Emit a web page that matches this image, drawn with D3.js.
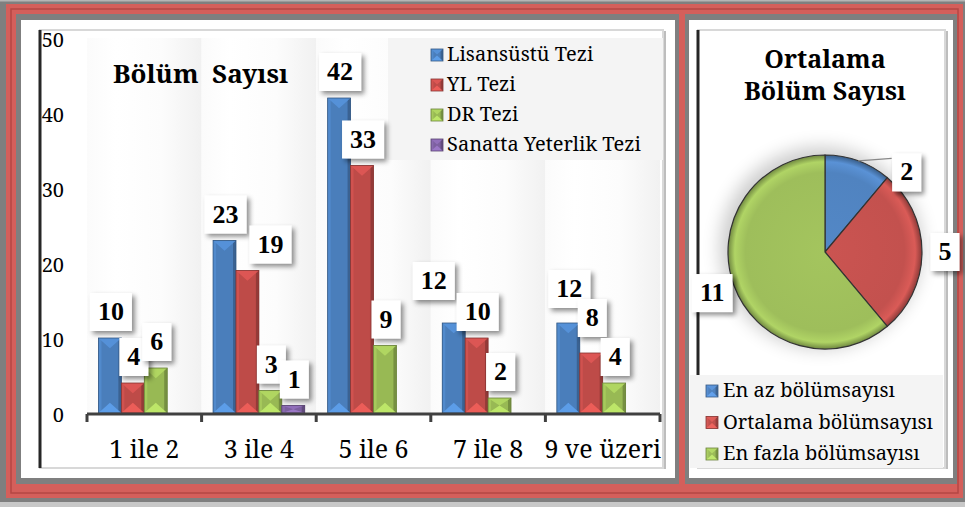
<!DOCTYPE html>
<html><head><meta charset="utf-8">
<script src="https://cdn.jsdelivr.net/npm/d3@7"></script>
<style>html,body{margin:0;padding:0;background:#7f7f7f;} svg{display:block;}</style>
</head><body><svg id="c" width="965" height="507"></svg>
<script>
// ---------- DATA ----------
const categories = ["1 ile 2", "3 ile 4", "5 ile 6", "7 ile 8", "9 ve üzeri"];
const seriesNames = ["Lisansüstü Tezi", "YL Tezi", "DR Tezi", "Sanatta Yeterlik Tezi"];
const lisansustuTezi = [10, 23, 42, 12, 12];
const ylTezi = [4, 19, 33, 10, 8];
const drTezi = [6, 3, 9, 2, 4];
const sanattaYeterlikTezi = [0, 1, 0, 0, 0];
const yTicks = [0, 10, 20, 30, 40, 50];
const pieNames = ["En az bölümsayısı", "Ortalama bölümsayısı", "En fazla bölümsayısı"];
const pieValues = [2, 5, 11];

// layout-only nudges for overlapping data labels ("category,series" -> [dx, dy])
const labelNudge = { "1,1": [22, 0], "3,0": [-21, -16], "4,0": [0, -8], "4,1": [0, -9] };

const seriesValues = [lisansustuTezi, ylTezi, drTezi, sanattaYeterlikTezi];
const seriesColors = ["#4a7ebb", "#be4b48", "#98b954", "#7d60a0"];
const pieColors = ["#4f81bd", "#c0504d", "#9bbb59"];
const FONT = "'Noto Serif', 'Liberation Serif', serif";
const NUMFONT = "'Liberation Serif', serif";

const svg = d3.select("#c");
const defs = svg.append("defs");
const f = defs.append("filter").attr("id", "dshadow").attr("x", "-40%").attr("y", "-40%").attr("width", "180%").attr("height", "180%");
f.append("feDropShadow").attr("dx", 3).attr("dy", 3).attr("stdDeviation", 2.5).attr("flood-color", "#000").attr("flood-opacity", 0.45);
const f2 = defs.append("filter").attr("id", "pieglow").attr("x", "-50%").attr("y", "-50%").attr("width", "200%").attr("height", "200%");
f2.append("feGaussianBlur").attr("stdDeviation", 9);

// ---------- FRAME ----------
svg.append("rect").attr("width", 965).attr("height", 507).attr("fill", "#7f7f7f");
svg.append("rect").attr("x", 0).attr("y", 0).attr("width", 965).attr("height", 1.5).attr("fill", "#b5b5b5");
svg.append("rect").attr("x", 0).attr("y", 502).attr("width", 965).attr("height", 5).attr("fill", "#c8c8c8");
svg.append("rect").attr("x", 6).attr("y", 4).attr("width", 957).attr("height", 494).attr("fill", "#d45f5b");
svg.append("rect").attr("x", 11).attr("y", 9).attr("width", 947).attr("height", 484).attr("fill", "none").attr("stroke", "#b44744").attr("stroke-width", 1.5);
svg.append("rect").attr("x", 16).attr("y", 14).attr("width", 941).attr("height", 470).attr("fill", "#7f7f7f");
svg.append("rect").attr("x", 679).attr("y", 13).attr("width", 6).attr("height", 472).attr("fill", "#d45f5b");
svg.append("rect").attr("x", 21).attr("y", 20).attr("width", 654).attr("height", 458).attr("fill", "#ffffff");
svg.append("rect").attr("x", 689).attr("y", 20).attr("width", 264).attr("height", 458).attr("fill", "#ffffff");
function innerBox(x0, x1) {
  svg.append("rect").attr("x", x0).attr("y", 30).attr("width", x1 - x0).attr("height", 438)
    .attr("fill", "#ffffff").attr("stroke", "#d8d8d8").attr("stroke-width", 2);
  svg.append("line").attr("x1", x1 + 2).attr("x2", x1 + 2).attr("y1", 31).attr("y2", 469).attr("stroke", "#bdbdbd").attr("stroke-width", 2);
  svg.append("line").attr("x1", x0).attr("x2", x0).attr("y1", 30).attr("y2", 468).attr("stroke", "#262626").attr("stroke-width", 3);
}
innerBox(40, 663);
innerBox(698, 945);

// ---------- BAR CHART ----------
const x0 = d3.scaleBand().domain(categories).range([87, 660]).paddingInner(0).paddingOuter(0);
const x1 = d3.scaleBand().domain(seriesNames).range([0, x0.bandwidth()]).paddingInner(0).paddingOuter(0.5);
const y = d3.scaleLinear().domain([0, 50]).range([413, 38]);

const bandGrad = defs.append("linearGradient").attr("id", "bandGrad").attr("x1", 0).attr("x2", 1).attr("y1", 0).attr("y2", 0);
bandGrad.append("stop").attr("offset", "0%").attr("stop-color", "#fbfbfb");
bandGrad.append("stop").attr("offset", "25%").attr("stop-color", "#ffffff");
bandGrad.append("stop").attr("offset", "65%").attr("stop-color", "#fcfcfc");
bandGrad.append("stop").attr("offset", "100%").attr("stop-color", "#f1f1f1");
svg.append("g").selectAll("rect").data(categories).join("rect")
  .attr("x", d => x0(d)).attr("y", y(50)).attr("width", x0.bandwidth()).attr("height", y(0) - y(50))
  .attr("fill", "url(#bandGrad)");

function bevelBar(g, x, yt, w, h, color) {
  const c = d3.color(color);
  const t = Math.min(w * 0.45, h / 2);
  const e = Math.min(3, w / 5);
  g.append("rect").attr("x", x).attr("y", yt).attr("width", w).attr("height", h).attr("fill", color);
  g.append("polygon").attr("points", [[x, yt], [x + e, yt], [x + e, yt + h], [x, yt + h]].join(" ")).attr("fill", c.brighter(0.25));
  g.append("polygon").attr("points", [[x + w - e, yt], [x + w, yt], [x + w, yt + h], [x + w - e, yt + h]].join(" ")).attr("fill", c.darker(0.7));
  g.append("polygon").attr("points", [[x, yt], [x + w, yt], [x + w / 2, yt + t]].join(" ")).attr("fill", c.brighter(0.45)).attr("opacity", 0.9);
  g.append("polygon").attr("points", [[x, yt + h], [x + w, yt + h], [x + w / 2, yt + h - t]].join(" ")).attr("fill", c.brighter(0.7)).attr("opacity", 0.85);
  g.append("rect").attr("x", x).attr("y", yt).attr("width", w).attr("height", h).attr("fill", "none")
    .attr("stroke", c.darker(1)).attr("stroke-width", 0.8);
}

const barsG = svg.append("g");
categories.forEach((cat, i) => {
  seriesNames.forEach((s, k) => {
    const v = seriesValues[k][i];
    if (v <= 0) return;
    bevelBar(barsG.append("g"), x0(cat) + x1(s), y(v), x1.bandwidth(), y(0) - y(v), seriesColors[k]);
  });
});

// x axis
const xAxisG = svg.append("g").attr("transform", "translate(0,414)");
xAxisG.append("line").attr("x1", 87).attr("x2", 660).attr("y1", 0).attr("y2", 0).attr("stroke", "#404040").attr("stroke-width", 3);
const bounds = categories.map(c => x0(c)).concat([x0(categories[categories.length - 1]) + x0.bandwidth()]);
xAxisG.selectAll("line.tk").data(bounds).join("line").attr("class", "tk")
  .attr("x1", d => d).attr("x2", d => d).attr("y1", 0).attr("y2", 8).attr("stroke", "#404040").attr("stroke-width", 3);
xAxisG.selectAll("text").data(categories).join("text")
  .attr("x", d => x0(d) + x0.bandwidth() / 2).attr("y", 44).attr("text-anchor", "middle")
  .style("font-family", FONT).attr("font-size", 25).attr("fill", "#000").text(d => d);

// y axis labels
svg.append("g").selectAll("text").data(yTicks).join("text")
  .attr("x", 64).attr("y", d => y(d) + 2).attr("dy", "0.35em").attr("text-anchor", "end")
  .style("font-family", FONT).attr("font-size", 20).attr("fill", "#000").text(d => d);

// title
svg.append("text").attr("x", 113).attr("y", 83).style("font-family", FONT).attr("font-weight", "bold")
  .attr("font-size", 26).attr("fill", "#000").style("white-space", "pre").text("Bölüm  Sayısı");

// legend
const lg = svg.append("g");
lg.append("rect").attr("x", 388).attr("y", 38).attr("width", 275).attr("height", 122).attr("fill", "#f4f4f4");
seriesNames.forEach((s, k) => {
  bevelBar(lg.append("g"), 431, 49 + k * 30, 12, 12, seriesColors[k]);
  lg.append("text").attr("x", 447).attr("y", 61 + k * 30).style("font-family", FONT).attr("font-size", 20)
    .attr("fill", "#000").text(s);
});

function labelBox(g, cx, bottom, txt) {
  const lb = g.append("g");
  const r = lb.append("rect").attr("fill", "#fff").attr("filter", "url(#dshadow)");
  const t = lb.append("text").attr("x", cx).attr("y", bottom - 11).attr("text-anchor", "middle")
    .style("font-family", NUMFONT).attr("font-weight", "bold").attr("font-size", 26).attr("fill", "#000").text(txt);
  const w = t.node().getComputedTextLength() + 16;
  r.attr("x", cx - w / 2).attr("y", bottom - 38).attr("width", w).attr("height", 38);
  return lb;
}
const labelsG = svg.append("g");
categories.forEach((cat, i) => {
  seriesNames.forEach((s, k) => {
    const v = seriesValues[k][i];
    if (v <= 0) return;
    const n = labelNudge[i + "," + k] || [0, 0];
    labelBox(labelsG, x0(cat) + x1(s) + x1.bandwidth() / 2 + 1 + n[0], y(v) - 7 + n[1], v);
  });
});

// ---------- PIE ----------
const cx = 825, cy = 252, R = 97;
svg.append("g").selectAll("text").data(["Ortalama", "Bölüm Sayısı"]).join("text")
  .attr("x", cx).attr("y", (d, i) => 68 + i * 32).attr("text-anchor", "middle")
  .style("font-family", FONT).attr("font-weight", "bold").attr("font-size", 25).attr("fill", "#000").text(d => d);

const pg = svg.append("g").attr("transform", `translate(${cx},${cy})`);
pg.append("circle").attr("cx", -4).attr("cy", -4).attr("r", R + 4).attr("fill", "#000").attr("opacity", 0.2).attr("filter", "url(#pieglow)");
const pie = d3.pie().sort(null).value(d => d);
const arcs = pie(pieValues);
const arc = d3.arc().innerRadius(0).outerRadius(R);
pieColors.forEach((col, i) => {
  const c = d3.color(col);
  const gr = defs.append("radialGradient").attr("id", "pg" + i).attr("gradientUnits", "userSpaceOnUse")
    .attr("cx", 0).attr("cy", 0).attr("r", R);
  gr.append("stop").attr("offset", "0%").attr("stop-color", c.brighter(0.15));
  gr.append("stop").attr("offset", "82%").attr("stop-color", c.brighter(0.05));
  gr.append("stop").attr("offset", "93%").attr("stop-color", c.brighter(0.35));
  gr.append("stop").attr("offset", "100%").attr("stop-color", c.darker(0.9));
});
pg.selectAll("path").data(arcs).join("path").attr("d", arc)
  .attr("fill", (d, i) => `url(#pg${i})`).attr("stroke", "#333").attr("stroke-width", 1.2);

arcs.forEach((a, i) => {
  const span = a.endAngle - a.startAngle;
  let ang = (a.startAngle + a.endAngle) / 2;
  let rr = 120;
  if (span < 0.9) { ang = a.endAngle + 0.1; rr = 114; }
  const lx = Math.sin(ang) * rr, ly = -Math.cos(ang) * rr;
  if (span < 0.9) {
    const m = (a.startAngle + a.endAngle) / 2;
    pg.append("line").attr("x1", Math.sin(m) * R).attr("y1", -Math.cos(m) * R)
      .attr("x2", lx - 15).attr("y2", ly - 14).attr("stroke", "#888").attr("stroke-width", 1.2);
  }
  labelBox(pg, lx, ly + 19, a.data);
});

// pie legend
const plg = svg.append("g");
plg.append("rect").attr("x", 690).attr("y", 375).attr("width", 253).attr("height", 93).attr("fill", "#f4f4f4");
pieNames.forEach((s, k) => {
  bevelBar(plg.append("g"), 706, 385 + k * 31.5, 12, 12, pieColors[k]);
  plg.append("text").attr("x", 723).attr("y", 397 + k * 31.5).style("font-family", FONT).attr("font-size", 20)
    .attr("fill", "#000").text(s);
});
</script>
</body></html>
